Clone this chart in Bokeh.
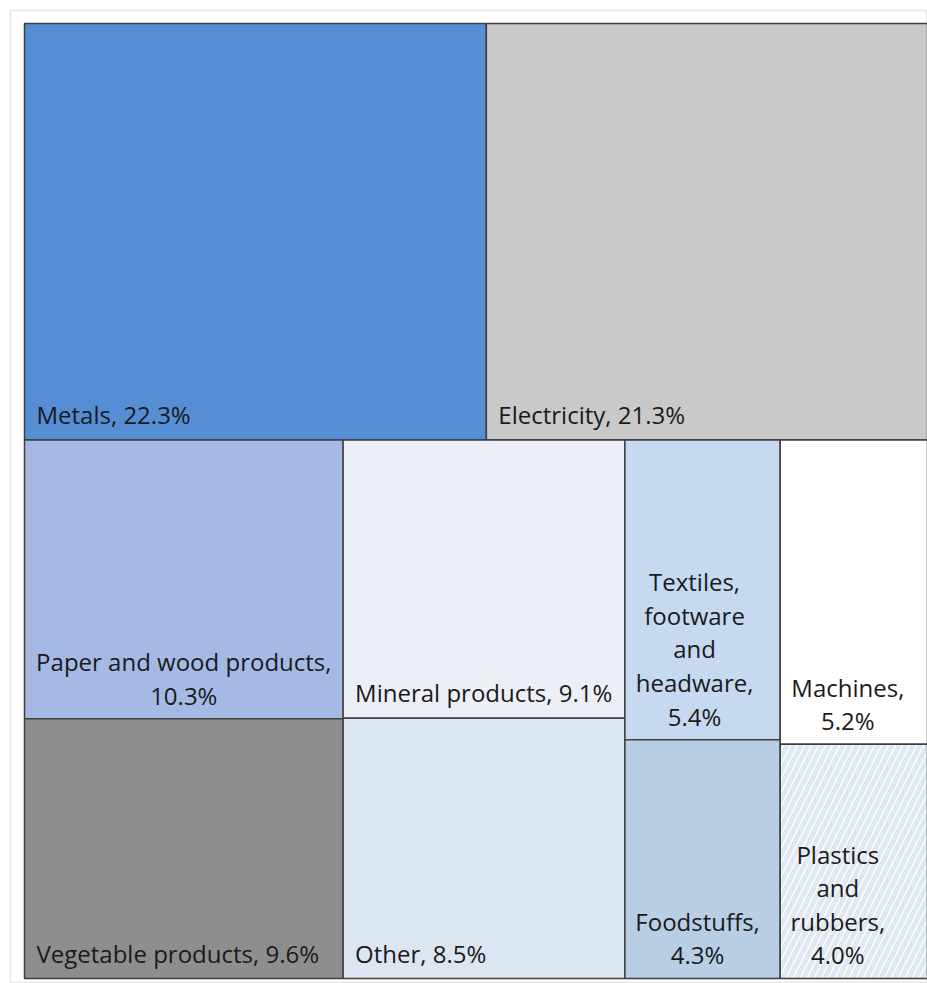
from bokeh.plotting import figure
from bokeh.models import ColumnDataSource, Range1d
from bokeh.embed import file_html
from bokeh.resources import INLINE
from bokeh.core.properties import value

# ---- data ----
top_names = ["Metals", "Electricity"]
top_values = [22.3, 21.3]
# bottom part: columns of two stacked cells (upper, lower)
col_upper_names = ["Paper and wood products", "Mineral products", "Textiles, footware and headware", "Machines"]
col_upper_values = [10.3, 9.1, 5.4, 5.2]
col_lower_names = ["Vegetable products", "Other", "Foodstuffs", "Plastics and rubbers"]
col_lower_values = [9.6, 8.5, 4.3, 4.0]

# ---- styles ----
top_colors = ["#558ED5", "#C9C9C9"]
upper_colors = ["#A6B9E4", "#ECF0F6", "#C6D9F1", "#FFFFFF"]
lower_colors = ["#8E8E8E", "#DCE6F2", "#B9CDE5", "#FFFFFF"]
top_labels = ["Metals, 22.3%", "Electricity, 21.3%"]
upper_labels = ["Paper and wood products,\n10.3%", "Mineral products, 9.1%",
                "Textiles,\nfootware\nand\nheadware,\n5.4%", "Machines,\n5.2%"]
lower_labels = ["Vegetable products, 9.6%", "Other, 8.5%", "Foodstuffs,\n4.3%", "Plastics\nand\nrubbers,\n4.0%"]

total = sum(top_values) + sum(col_upper_values) + sum(col_lower_values)

rects = []  # (x0, x1, y0, y1, color, label, hatch)
top_h = sum(top_values) / total
x = 0.0
for n, v, c, lab in zip(top_names, top_values, top_colors, top_labels):
    w = v / sum(top_values)
    rects.append((x, x + w, 1 - top_h, 1.0, c, lab, False))
    x += w
bot_total = sum(col_upper_values) + sum(col_lower_values)
bot_h = 1 - top_h
x = 0.0
for i in range(len(col_upper_values)):
    cs = col_upper_values[i] + col_lower_values[i]
    w = cs / bot_total
    hu = bot_h * col_upper_values[i] / cs
    rects.append((x, x + w, bot_h - hu, bot_h, upper_colors[i], upper_labels[i], False))
    rects.append((x, x + w, 0.0, bot_h - hu, lower_colors[i], lower_labels[i], i == 3))
    x += w

W, H = 927, 983
p = figure(width=W, height=H, output_backend="svg", toolbar_location=None,
           min_border_left=10, min_border_top=10, min_border_right=0, min_border_bottom=0)
p.x_range = Range1d(-14 / 903, 1.0)
p.y_range = Range1d(-5 / 955, 1 + 13 / 955)
p.axis.visible = False
p.grid.visible = False
p.outline_line_color = "#E6E6E6"
p.outline_line_width = 1.5
p.background_fill_color = "white"
p.border_fill_color = "white"

plain = [r for r in rects if not r[6]]
hatched = [r for r in rects if r[6]]

src = ColumnDataSource(dict(
    left=[r[0] for r in plain], right=[r[1] for r in plain],
    bottom=[r[2] for r in plain], top=[r[3] for r in plain],
    color=[r[4] for r in plain]))
p.quad(left="left", right="right", bottom="bottom", top="top", source=src,
       fill_color="color", line_color="#3F3F3F", line_width=1.5)

hsrc = ColumnDataSource(dict(
    left=[r[0] for r in hatched], right=[r[1] for r in hatched],
    bottom=[r[2] for r in hatched], top=[r[3] for r in hatched]))
p.quad(left="left", right="right", bottom="bottom", top="top", source=hsrc,
       fill_color="white", hatch_pattern="/", hatch_color="#E0E8F3",
       hatch_scale=14, hatch_weight=5, line_color="#3F3F3F", line_width=1.5)

single = [r for r in rects if "\n" not in r[5]]
multi = [r for r in rects if "\n" in r[5]]
multi_offsets = {"Paper and wood products,\n10.3%": 0,
                 "Textiles,\nfootware\nand\nheadware,\n5.4%": -8,
                 "Foodstuffs,\n4.3%": -5,
                 "Machines,\n5.2%": -6,
                 "Plastics\nand\nrubbers,\n4.0%": -16}

FS = "24px"
ssrc = ColumnDataSource(dict(x=[r[0] for r in single], y=[r[2] for r in single],
                             text=[r[5] for r in single]))
p.text(x="x", y="y", text="text", source=ssrc, x_offset=12, y_offset=-9,
       text_align="left", text_baseline="bottom", text_font=value("Open Sans"),
       text_font_size=FS, text_color="#1A1A1A")

msrc = ColumnDataSource(dict(x=[(r[0] + r[1]) / 2 for r in multi], y=[r[2] for r in multi],
                             text=[r[5] for r in multi],
                             xo=[multi_offsets[r[5]] for r in multi]))
p.text(x="x", y="y", text="text", source=msrc, x_offset="xo", y_offset=-7,
       text_align="center", text_baseline="bottom", text_font=value("Open Sans"),
       text_font_size=FS, text_line_height=1.02, text_color="#1A1A1A")

open("out.html", "w").write(file_html(p, INLINE))
